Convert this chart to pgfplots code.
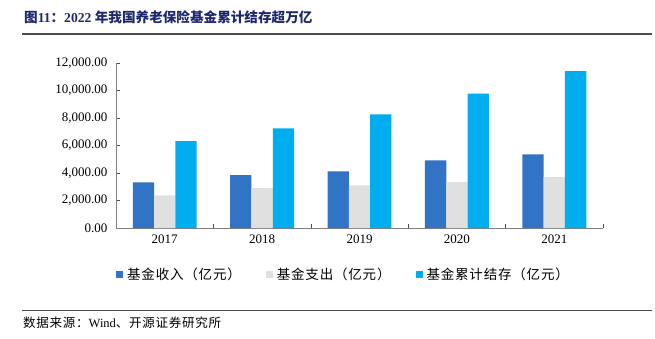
\documentclass[border=0pt]{standalone}
\usepackage{pgfplots}
\pgfplotsset{compat=1.18}
\usepackage{fontspec}
\setmainfont{Liberation Serif}
\newfontfamily\cjk{Noto Sans CJK SC}
\newfontfamily\cjkls[LetterSpace=6]{Noto Sans CJK SC}
\definecolor{cIn}{RGB}{49,116,198}
\definecolor{cOut}{RGB}{224,224,224}
\definecolor{cBal}{RGB}{0,174,239}
\definecolor{cTitle}{RGB}{30,40,110}
\definecolor{cAxis}{RGB}{128,128,128}
\begin{document}
\begin{tikzpicture}[x=1bp,y=1bp]
\useasboundingbox (0,0) rectangle (655,338);
\node[anchor=west, inner sep=0pt, text=cTitle, font=\fontsize{13.6bp}{16bp}\selectfont\bfseries] at (24,321)
  {{\cjk 图}11{\cjk ：}2022 {\cjk 年我国养老保险基金累计结存超万亿}};
\draw[color=black!70, line width=1.2bp] (22,304) -- (652,304);
\draw[color=black!70, line width=1bp] (22,28) -- (652,28);
\node[anchor=west, inner sep=0pt, font=\fontsize{12.5bp}{14bp}\selectfont] at (23,15)
  {{\cjkls 数据来源：}Wind{\cjkls 、开源证券研究所}};
\begin{axis}[
  at={(0,0)}, anchor=origin, xshift=164.7bp, yshift=110bp,
  scale only axis, width=487bp, height=165bp,
  ybar=0pt, bar width=21.3bp,
  xmin=-0.5, xmax=4.5, ymin=0, ymax=12000,
  axis x line*=bottom, axis y line*=left,
  axis line style={draw=cAxis, line width=0.8bp, -},
  xtick={0,1,2,3,4}, xticklabels={2017,2018,2019,2020,2021},
  major x tick style={draw=none},
  minor xtick={-0.5,0.5,1.5,2.5,3.5,4.5},
  minor x tick style={draw=black!70, line width=0.6bp},
  minor tick length=4bp,
  ytick={0,2000,4000,6000,8000,10000,12000},
  major tick length=4bp,
  y tick style={draw=black!70, line width=0.6bp},
  tick align=inside,
  scaled y ticks=false,
  ticklabel style={font=\fontsize{13bp}{15bp}\selectfont},
  xticklabel style={yshift=-3bp},
  yticklabel style={xshift=-5bp, /pgf/number format/.cd, fixed, fixed zerofill, precision=2, 1000 sep={,}, assume math mode=true},
  legend columns=3,
  legend style={at={(0,-0.279)}, anchor=west, draw=none, fill=none, inner sep=0pt,
    font=\fontsize{13.5bp}{15bp}\selectfont\cjkls,
    nodes={inner sep=0pt, anchor=west},
    /tikz/every odd column/.append style={column sep=4bp},
    /tikz/every even column/.append style={column sep=25bp}},
  legend image code/.code={\fill[#1, draw=none] (0bp,-3.5bp) rectangle (7bp,3.5bp);},
]
\addplot[fill=cIn, draw=none] coordinates {(0,3315) (1,3850) (2,4120) (3,4925) (4,5363)};
\addplot[fill=cOut, draw=none] coordinates {(0,2365) (1,2900) (2,3095) (3,3337) (4,3702)};
\addplot[fill=cBal, draw=none] coordinates {(0,6315) (1,7244) (2,8268) (3,9776) (4,11415)};
\legend{基金收入（亿元）,基金支出（亿元）,基金累计结存（亿元）}
\end{axis}
\end{tikzpicture}
\end{document}
